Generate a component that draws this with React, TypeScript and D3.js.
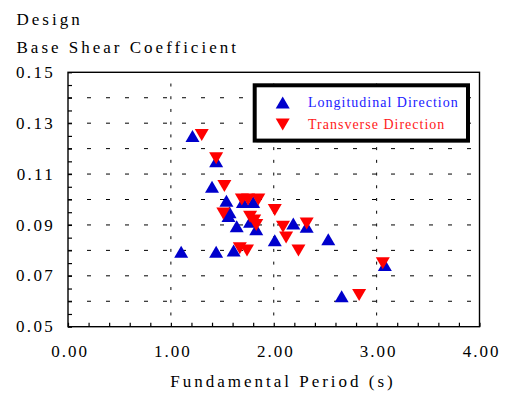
import React from 'react'
import * as d3 from 'd3'

// Longitudinal direction (blue, up triangles)
const longPeriod = [1.21, 1.44, 1.40, 1.54, 1.70, 1.80, 1.57, 1.56, 1.64, 1.77, 1.83, 2.01, 2.19, 2.32, 2.53, 1.10, 1.44, 1.61, 2.66, 3.08]
const longCoef = [0.125, 0.115, 0.105, 0.0995, 0.099, 0.099, 0.095, 0.0935, 0.0895, 0.0913, 0.0883, 0.084, 0.0906, 0.0893, 0.0844, 0.0795, 0.0795, 0.080, 0.062, 0.0743]

// Transverse direction (red, down triangles)
const transPeriod = [1.30, 1.44, 1.52, 1.69, 1.75, 1.85, 1.51, 1.77, 1.81, 1.83, 2.01, 2.09, 2.12, 2.24, 1.67, 1.74, 2.32, 3.06, 2.83]
const transCoef = [0.1254, 0.1162, 0.1053, 0.100, 0.100, 0.100, 0.0945, 0.0932, 0.0917, 0.090, 0.0959, 0.0893, 0.0851, 0.080, 0.0808, 0.080, 0.0906, 0.0749, 0.0625]

const xTickLabels = ['0.00', '1.00', '2.00', '3.00', '4.00']
const yTickLabels = ['0.05', '0.07', '0.09', '0.11', '0.13', '0.15']
const seriesNames = ['Longitudinal Direction', 'Transverse Direction']

const FONT = "'Liberation Serif', Tinos, 'Times New Roman', 'DejaVu Serif', serif"
const BLUE = '#0000cc'
const RED = '#ff0000'

class App extends React.Component {
  svgRef = React.createRef<SVGSVGElement>()
  width = 505
  height = 393

  componentDidMount() {
    this.drawChart()
  }

  drawChart() {
    const svg = d3.select(this.svgRef.current)
    svg.selectAll('*').remove()

    const x = d3.scaleLinear().domain([0, 4]).range([68, 479.5])
    const y = d3.scaleLinear().domain([0.05, 0.15]).range([326.7, 72.3])

    // triangle paths, centred on their bounding box
    const tw = 14
    const th = 12
    const up = `M0,${-th / 2}L${tw / 2},${th / 2}L${-tw / 2},${th / 2}Z`
    const down = `M0,${th / 2}L${tw / 2},${-th / 2}L${-tw / 2},${-th / 2}Z`

    // horizontal dashed grid
    svg.append('g')
      .selectAll('line')
      .data(d3.range(0.06, 0.145, 0.01))
      .enter()
      .append('line')
      .attr('x1', x(0))
      .attr('x2', x(4))
      .attr('y1', d => y(d))
      .attr('y2', d => y(d))
      .attr('stroke', '#000')
      .attr('stroke-width', 1)
      .attr('stroke-dasharray', '4,15')

    // vertical grid: short dashes at every 0.005
    const vDash: [number, number][] = []
    ;[1, 2, 3].forEach(v => {
      d3.range(0.055, 0.1499, 0.005).forEach(c => vDash.push([v, c]))
    })
    svg.append('g')
      .selectAll('line')
      .data(vDash)
      .enter()
      .append('line')
      .attr('x1', d => x(d[0]))
      .attr('x2', d => x(d[0]))
      .attr('y1', d => y(d[1]) - 1.5)
      .attr('y2', d => y(d[1]) + 1.5)
      .attr('stroke', '#000')
      .attr('stroke-width', 1)

    // inward ticks
    const bottom = svg.append('g')
      .attr('transform', `translate(0, ${y(0.05)})`)
      .call(d3.axisBottom(x).tickValues(d3.range(0, 4.01, 0.2)).tickSize(-4).tickFormat(() => ''))
    const left = svg.append('g')
      .attr('transform', `translate(${x(0)}, 0)`)
      .call(d3.axisLeft(y).tickValues(d3.range(0.05, 0.1501, 0.005)).tickSize(-4).tickFormat(() => ''))
    bottom.select('.domain').remove()
    left.select('.domain').remove()
    svg.selectAll('.tick line').attr('stroke-width', 1.2)

    // frame
    svg.append('rect')
      .attr('x', x(0))
      .attr('y', y(0.15))
      .attr('width', x(4) - x(0))
      .attr('height', y(0.05) - y(0.15))
      .attr('fill', 'none')
      .attr('stroke', '#000')
      .attr('stroke-width', 1.4)

    // tick labels
    svg.append('g')
      .selectAll('text')
      .data(xTickLabels)
      .enter()
      .append('text')
      .attr('x', d => x(+d) + 2)
      .attr('y', 357)
      .attr('text-anchor', 'middle')
      .style('font-family', FONT)
      .attr('font-size', 17)
      .attr('letter-spacing', 2)
      .text(d => d)

    svg.append('g')
      .selectAll('text')
      .data(yTickLabels)
      .enter()
      .append('text')
      .attr('x', 55)
      .attr('y', d => y(+d))
      .attr('dy', '0.33em')
      .attr('text-anchor', 'end')
      .style('font-family', FONT)
      .attr('font-size', 17)
      .attr('letter-spacing', 2.3)
      .text(d => d)

    // titles
    const title = svg.append('text')
      .style('font-family', FONT)
      .attr('font-size', 17)
      .attr('letter-spacing', 3)
    title.append('tspan').attr('x', 16.5).attr('y', 25).text('Design')
    title.append('tspan').attr('x', 16.5).attr('y', 53.3).text('Base Shear Coefficient')

    svg.append('text')
      .attr('x', 283)
      .attr('y', 387)
      .attr('text-anchor', 'middle')
      .style('font-family', FONT)
      .attr('font-size', 17)
      .attr('letter-spacing', 3)
      .text('Fundamental Period (s)')

    // points
    svg.append('g')
      .selectAll('path')
      .data(d3.zip(longPeriod, longCoef))
      .enter()
      .append('path')
      .attr('d', up)
      .attr('transform', d => `translate(${x(d[0])}, ${y(d[1])})`)
      .attr('fill', BLUE)

    svg.append('g')
      .selectAll('path')
      .data(d3.zip(transPeriod, transCoef))
      .enter()
      .append('path')
      .attr('d', down)
      .attr('transform', d => `translate(${x(d[0])}, ${y(d[1])})`)
      .attr('fill', RED)

    // legend
    const legend = svg.append('g')
    legend.append('rect')
      .attr('x', 256.5)
      .attr('y', 87)
      .attr('width', 213.3)
      .attr('height', 55.3)
      .attr('fill', '#888')
    legend.append('rect')
      .attr('x', 254.7)
      .attr('y', 85.3)
      .attr('width', 213.3)
      .attr('height', 55.3)
      .attr('fill', '#fff')
      .attr('stroke', '#000')
      .attr('stroke-width', 4)

    const legendRows = [
      { name: seriesNames[0], color: BLUE, text: '#1a1aff', shape: up, cy: 102.5 },
      { name: seriesNames[1], color: RED, text: '#ff1a1a', shape: down, cy: 124.5 }
    ]
    legendRows.forEach(r => {
      legend.append('path')
        .attr('d', r.shape)
        .attr('transform', `translate(282.7, ${r.cy})`)
        .attr('fill', r.color)
      legend.append('text')
        .attr('x', 308)
        .attr('y', r.cy)
        .attr('dy', '0.33em')
        .style('font-family', FONT)
        .attr('font-size', 14)
        .attr('letter-spacing', 1)
        .attr('fill', r.text)
        .text(r.name)
    })
  }

  render() {
    return (
      <svg
        ref={this.svgRef}
        width={this.width}
        height={this.height}
        style={{ position: 'absolute', left: 0, top: 0, background: '#fff' }}
      />
    )
  }
}

export default App
